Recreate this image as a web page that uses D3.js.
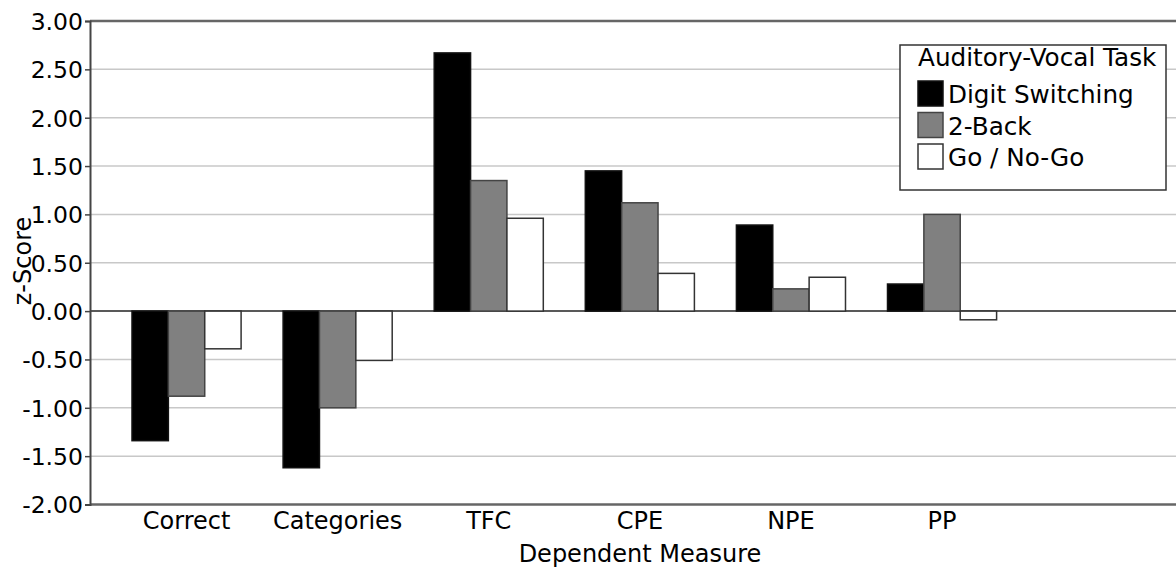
<!DOCTYPE html>
<html lang="en">
<head>
<meta charset="utf-8" />
<title>z-Score by Dependent Measure</title>
<style>
	body { margin: 0; background: #fff; }
	svg text { font-family: "DejaVu Sans", sans-serif; fill: #000; }
	.grid { stroke: #c8c8c8; stroke-width: 1.5px; }
	.frame { stroke: #666; stroke-width: 2.5px; }
</style>
<script src="https://cdn.jsdelivr.net/npm/d3@7"></script>
</head>
<body>
<div id="chart"></div>
<script>
	// data
	var categories = ["Correct", "Categories", "TFC", "CPE", "NPE", "PP"];
	var series = ["Digit Switching", "2-Back", "Go / No-Go"];
	var digitSwitching = [-1.34, -1.62, 2.67, 1.45, 0.89, 0.28];
	var twoBack = [-0.88, -1.00, 1.35, 1.12, 0.23, 1.00];
	var goNoGo = [-0.39, -0.51, 0.96, 0.39, 0.35, -0.09];
	var yTicks = [-2, -1.5, -1, -0.5, 0, 0.5, 1, 1.5, 2, 2.5, 3];

	var values = [digitSwitching, twoBack, goNoGo];
	var fills = ["#000000", "#808080", "#ffffff"];
	var strokes = ["#111111", "#444444", "#333333"];

	var width = 1176, height = 567;
	// plot edges (window.top is taken, so no "top" here)
	var plotL = 90, plotR = 1176, plotT = 21, plotB = 504.5;

	var svg = d3.select("#chart").append("svg")
		.attr("width", width)
		.attr("height", height);

	// scales
	var y = d3.scaleLinear().domain([-2, 3]).range([plotB, plotT]);
	var x0 = d3.scaleBand().domain(categories).range([plotL, 1038.6]).padding(0.278);
	var x1 = d3.scaleBand().domain(series).range([0, x0.bandwidth()]);

	// gridlines
	svg.append("g").selectAll("line")
		.data(yTicks.filter(function(d) { return d != 0 && d != -2 && d != 3; }))
		.join("line")
		.attr("class", "grid")
		.attr("x1", plotL).attr("x2", plotR)
		.attr("y1", function(d) { return y(d); })
		.attr("y2", function(d) { return y(d); });

	// zero line
	svg.append("line")
		.attr("x1", plotL).attr("x2", plotR)
		.attr("y1", y(0)).attr("y2", y(0))
		.style("stroke", "#222").style("stroke-width", 1.5);

	// bars
	var rows = [];
	categories.forEach(function(c, i) {
		series.forEach(function(s, j) {
			rows.push({cat: c, ser: s, j: j, v: values[j][i]});
		});
	});

	svg.append("g").selectAll("rect")
		.data(rows)
		.join("rect")
		.attr("x", function(d) { return x0(d.cat) + x1(d.ser); })
		.attr("width", x1.bandwidth())
		.attr("y", function(d) { return y(Math.max(0, d.v)); })
		.attr("height", function(d) { return Math.abs(y(d.v) - y(0)); })
		.style("fill", function(d) { return fills[d.j]; })
		.style("stroke", function(d) { return strokes[d.j]; })
		.style("stroke-width", 1.5);

	// frame lines top & bottom
	svg.append("line").attr("class", "frame")
		.attr("x1", plotL).attr("x2", plotR).attr("y1", plotT).attr("y2", plotT);
	svg.append("line").attr("class", "frame")
		.attr("x1", plotL).attr("x2", plotR).attr("y1", plotB).attr("y2", plotB);

	// y axis
	var yAxis = svg.append("g")
		.attr("transform", "translate(" + plotL + ",0)")
		.call(d3.axisLeft(y).tickValues(yTicks).tickSize(5).tickPadding(2)
			.tickFormat(function(d) { return d.toFixed(2); }));
	yAxis.select(".domain").style("stroke", "#444").style("stroke-width", 2);
	yAxis.selectAll(".tick line").style("stroke", "#444").style("stroke-width", 1.5);
	yAxis.selectAll("text").style("font-size", "23.5px").attr("dy", "0.36em");

	// x axis
	var xAxis = svg.append("g")
		.attr("transform", "translate(0," + plotB + ")")
		.call(d3.axisBottom(x0).tickSize(0).tickPadding(7));
	xAxis.select(".domain").remove();
	xAxis.selectAll("text").style("font-size", "24px");

	// axis titles
	svg.append("text")
		.attr("transform", "translate(31,261) rotate(-90)")
		.attr("text-anchor", "middle")
		.style("font-size", "24px")
		.text("z-Score");

	svg.append("text")
		.attr("x", 640)
		.attr("y", 562)
		.attr("text-anchor", "middle")
		.style("font-size", "24px")
		.text("Dependent Measure");

	// legend
	var legend = svg.append("g");
	legend.append("rect")
		.attr("x", 900).attr("y", 45)
		.attr("width", 266).attr("height", 145)
		.style("fill", "#fff").style("stroke", "#333").style("stroke-width", 1.5);
	legend.append("text")
		.attr("x", 918).attr("y", 66)
		.style("font-size", "24.7px")
		.text("Auditory-Vocal Task");

	var item = legend.selectAll("g.item")
		.data(series)
		.join("g")
		.attr("class", "item")
		.attr("transform", function(d, i) { return "translate(918," + (81 + i * 31.5) + ")"; });
	item.append("rect")
		.attr("width", 25).attr("height", 25)
		.style("fill", function(d, i) { return fills[i]; })
		.style("stroke", function(d, i) { return strokes[i]; })
		.style("stroke-width", 1.5);
	item.append("text")
		.attr("x", 30).attr("y", 22)
		.style("font-size", "24.7px")
		.text(function(d) { return d; });
</script>
</body>
</html>
